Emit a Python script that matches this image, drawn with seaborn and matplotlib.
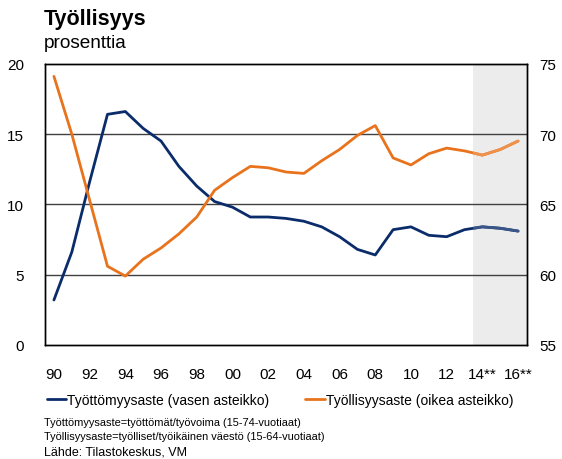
import numpy as np
import pandas as pd
import matplotlib
matplotlib.use("Agg")
import matplotlib.pyplot as plt
from matplotlib.lines import Line2D
import seaborn as sns

# Data
years = list(range(1990, 2017))
tick_labels = ["90", "92", "94", "96", "98", "00", "02", "04", "06", "08",
               "10", "12", "14**", "16**"]
unemployment = [3.2, 6.6, 11.6, 16.4, 16.6, 15.4, 14.5, 12.7, 11.3, 10.2,
                9.8, 9.1, 9.1, 9.0, 8.8, 8.4, 7.7, 6.8, 6.4, 8.2,
                8.4, 7.8, 7.7, 8.2, 8.4, 8.3, 8.1]
employment = [74.1, 70.0, 65.3, 60.6, 59.9, 61.1, 61.9, 62.9, 64.1, 66.0,
              66.9, 67.7, 67.6, 67.3, 67.2, 68.1, 68.9, 69.9, 70.6, 68.3,
              67.8, 68.6, 69.0, 68.8, 68.5, 68.9, 69.5]
forecast_start = 2014

df = pd.DataFrame({"year": years, "unemp": unemployment, "emp": employment})
df["pos"] = np.arange(len(df))

blue = "#0b2c6b"
orange = "#e8731c"
blue_light = "#3a5688"
orange_light = "#ef914a"

sns.set_style("white")
plt.rcParams["font.family"] = ["Liberation Sans", "DejaVu Sans"]
plt.rcParams["text.color"] = "black"
plt.rcParams["xtick.color"] = "black"
plt.rcParams["ytick.color"] = "black"

fig = plt.figure(figsize=(5.62, 4.6), dpi=100)
ax = fig.add_axes([45 / 562, 1 - 346 / 460, 482 / 562, 281.3 / 460])
ax2 = ax.twinx()

# forecast shading
fpos = years.index(forecast_start) - 0.5
span = ax.axvspan(fpos, len(years) - 0.5, color="#ececec", zorder=0, lw=0)

for y in [5, 10, 15]:
    ax.axhline(y, color="#404040", lw=1, zorder=1)

sns.lineplot(data=df, x="pos", y="unemp", ax=ax, color=blue, lw=2, zorder=3)
sns.lineplot(data=df, x="pos", y="emp", ax=ax2, color=orange, lw=2, zorder=3)

# lighter forecast part of the lines
l1, = ax.plot(df["pos"], df["unemp"], color=blue_light, lw=2, zorder=4)
l1.set_clip_path(span)
l2, = ax2.plot(df["pos"], df["emp"], color=orange_light, lw=2, zorder=4)
l2.set_clip_path(span)

ax.set_xlim(-0.5, len(years) - 0.5)
ax.set_ylim(0, 20)
ax2.set_ylim(55, 75)
ax.set_yticks([0, 5, 10, 15, 20])
ax2.set_yticks([55, 60, 65, 70, 75])

ax.set_xticks(df["pos"][::2])
ax.set_xticklabels(tick_labels)
ax.set_xticks(np.arange(len(years) - 1) + 0.5, minor=True)
ax.tick_params(axis="x", which="major", length=0, pad=16, labelsize=11)
ax.tick_params(axis="x", which="minor", direction="in", length=5,
               color="#555555", width=1)
ax.tick_params(axis="y", length=0, pad=15, labelsize=11)
ax2.tick_params(axis="y", length=0, pad=9, labelsize=11)

for a in (ax, ax2):
    a.set_xlabel("")
    a.set_ylabel("")
    for s in a.spines.values():
        s.set_color("black")
        s.set_linewidth(1)
        s.set_visible(True)
ax2.patch.set_visible(False)

fig.text(44 / 562, 1 - 19 / 460, "Työllisyys", fontsize=15.5,
         fontweight="bold", va="center", ha="left")
fig.text(44 / 562, 1 - 43 / 460, "prosenttia", fontsize=13.7,
         va="center", ha="left")

handles = [Line2D([], [], color=blue, lw=2),
           Line2D([], [], color=orange, lw=2)]
fig.legend(handles, ["Työttömyysaste (vasen asteikko)",
                     "Työllisyysaste (oikea asteikko)"],
           loc="center left", bbox_to_anchor=(47 / 562, 1 - 401 / 460),
           ncol=2, frameon=False, fontsize=10, handlelength=1.4,
           handletextpad=0.05, columnspacing=2.6, borderpad=0,
           borderaxespad=0)

fig.text(44 / 562, 1 - 423 / 460,
         "Työttömyysaste=työttömät/työvoima (15-74-vuotiaat)",
         fontsize=7.9, va="center", ha="left")
fig.text(44 / 562, 1 - 437 / 460,
         "Työllisyysaste=työlliset/työikäinen väestö (15-64-vuotiaat)",
         fontsize=7.9, va="center", ha="left")
fig.text(44 / 562, 1 - 453 / 460, "Lähde: Tilastokeskus, VM",
         fontsize=9, va="center", ha="left")

fig.savefig("out.png", dpi=100)
